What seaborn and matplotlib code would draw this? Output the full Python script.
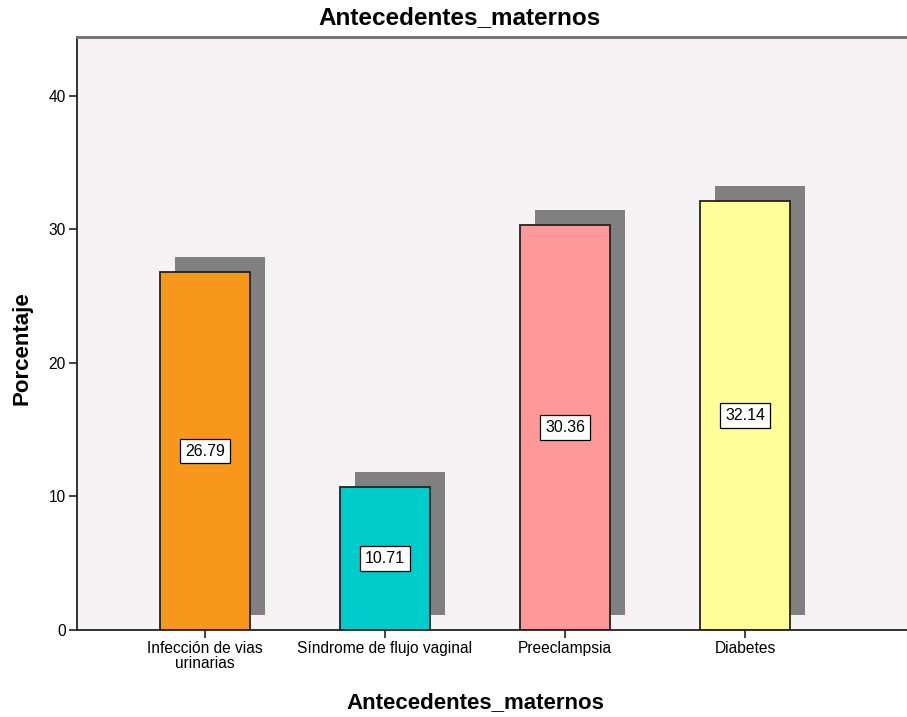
import matplotlib
matplotlib.use("Agg")
import matplotlib.pyplot as plt
import matplotlib.transforms as mtransforms
import seaborn as sns
import pandas as pd

categorias = ["Infección de vias\nurinarias", "Síndrome de flujo vaginal", "Preeclampsia", "Diabetes"]
porcentajes = [26.79, 10.71, 30.36, 32.14]
colores = ["#F7981D", "#00CCCC", "#FF9999", "#FFFF99"]
yticks = [0, 10, 20, 30, 40]

sns.set_theme(style="white")
plt.rcParams["font.family"] = ["Liberation Sans", "DejaVu Sans"]
plt.rcParams["text.color"] = "black"
plt.rcParams["axes.labelcolor"] = "black"
plt.rcParams["xtick.color"] = "black"
plt.rcParams["ytick.color"] = "black"

df = pd.DataFrame({"cat": categorias, "pct": porcentajes})

fig = plt.figure(figsize=(9.07, 7.17), dpi=100)
ax = fig.add_axes([77 / 907, 1 - 630 / 717, 1 - 77 / 907, (630 - 37) / 717])
ax.set_facecolor("#F7F3F4")

# drop shadows: the same bars, shifted up and to the right
sns.barplot(data=df, x="cat", y="pct", color="#808080", width=0.5,
            saturation=1, linewidth=0, ax=ax, zorder=1)
shift = mtransforms.ScaledTranslation(15 / 100, 15 / 100, fig.dpi_scale_trans)
for p in ax.patches:
    p.set_transform(ax.transData + shift)

sns.barplot(data=df, x="cat", y="pct", hue="cat", palette=colores, width=0.5,
            saturation=1, edgecolor="#222222", linewidth=1.3, legend=False,
            ax=ax, zorder=2)

for i, v in enumerate(porcentajes):
    ax.text(i, v / 2, f"{v:.2f}", ha="center", va="center", fontsize=11.5,
            color="black", zorder=5,
            bbox=dict(boxstyle="square,pad=0.3", facecolor="white",
                      edgecolor="black", linewidth=0.9))

ax.set_xlim(-0.711, 3.9)
ax.set_ylim(0, 44.4)
ax.set_yticks(yticks)
ax.tick_params(axis="both", which="both", direction="out", length=6, width=1.2,
               color="#222222", labelcolor="black", labelsize=11.2, pad=2,
               left=True, bottom=True)
for lbl in ax.get_xticklabels():
    lbl.set_linespacing(1.0)

for side in ["left", "bottom"]:
    ax.spines[side].set_color("#222222")
    ax.spines[side].set_linewidth(1.3)
ax.spines["top"].set_color("#707070")
ax.spines["top"].set_linewidth(2)
ax.spines["right"].set_visible(False)

ax.set_xlabel("Antecedentes_maternos", fontsize=16, fontweight="bold", color="black")
ax.set_ylabel("Porcentaje", fontsize=16, fontweight="bold", color="black")
ax.xaxis.set_label_coords((475 - 77) / 830, (630 - 703) / 593)
ax.xaxis.label.set_va("center")
ax.yaxis.set_label_coords((22 - 77) / 830, (630 - 348) / 593)
ax.yaxis.label.set_va("center")
fig.text(460 / 907, 1 - 18 / 717, "Antecedentes_maternos", ha="center", va="center",
         fontsize=17.5, fontweight="bold", color="black")

fig.savefig("out.png", dpi=100)
